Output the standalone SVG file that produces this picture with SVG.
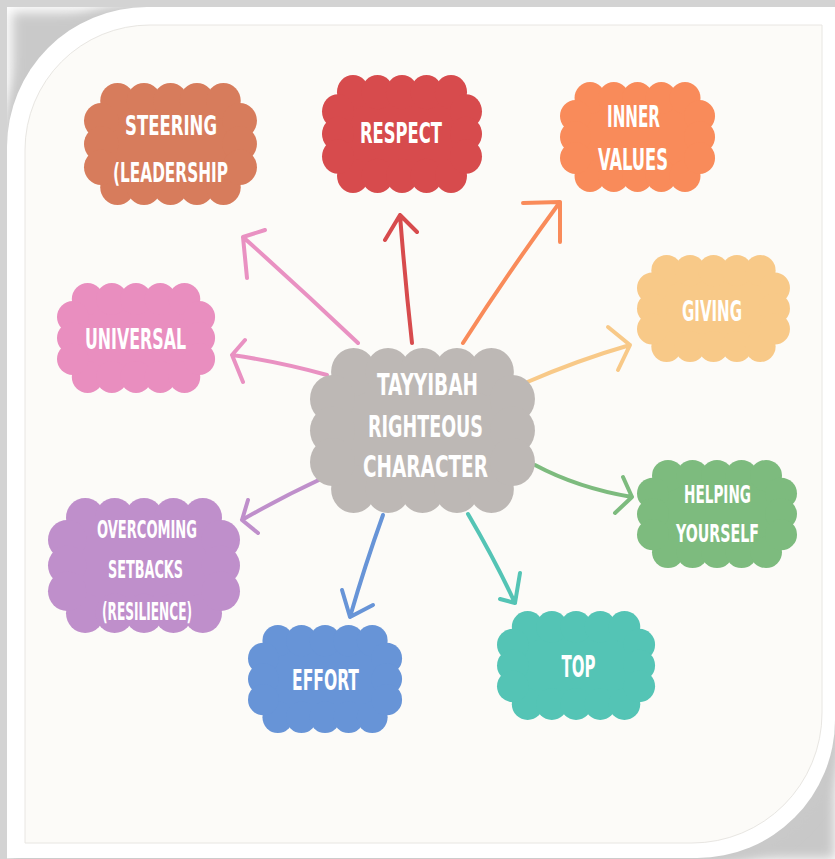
<svg xmlns="http://www.w3.org/2000/svg" xmlns:xlink="http://www.w3.org/1999/xlink" width="835" height="859" viewBox="0 0 835 859">
<style>
.lbl{font-family:"DejaVu Sans Condensed","DejaVu Sans","Liberation Sans",sans-serif;font-weight:bold;fill:#ffffff;text-anchor:middle}
.arr{fill:none;stroke-width:4;stroke-linecap:round;stroke-linejoin:round}
</style>
<defs>
<filter id="blur" x="-10%" y="-10%" width="120%" height="120%"><feGaussianBlur stdDeviation="6"/></filter>
<g id="cloud">
<rect x="20" y="20" width="120" height="70"/>
<circle cx="31" cy="16" r="16"/><circle cx="55.5" cy="16" r="16"/><circle cx="80" cy="16" r="16"/><circle cx="104.5" cy="16" r="16"/><circle cx="129" cy="16" r="16"/>
<circle cx="31" cy="94" r="16"/><circle cx="55.5" cy="94" r="16"/><circle cx="80" cy="94" r="16"/><circle cx="104.5" cy="94" r="16"/><circle cx="129" cy="94" r="16"/>
<circle cx="16" cy="34" r="16"/><circle cx="16" cy="55" r="16"/><circle cx="16" cy="76" r="16"/>
<circle cx="144" cy="34" r="16"/><circle cx="144" cy="55" r="16"/><circle cx="144" cy="76" r="16"/>
</g>
</defs>
<g id="frame">
<rect x="0" y="0" width="835" height="859" fill="#ffffff"/>
<path d="M 3,143 A 140 140 0 0 1 143 3 H 835 V 859 H 3 Z" fill="#c8c8c8" filter="url(#blur)"/>
<path d="M 12,12 H 841 V 728 A 140 140 0 0 1 701 866 H 12 Z" fill="#c9c9c9" filter="url(#blur)"/>
<rect x="0" y="0" width="835" height="7" fill="#d3d3d3"/>
<rect x="0" y="0" width="7" height="859" fill="#d3d3d3"/>
<path d="M 7,147 A 140 140 0 0 1 147 7 H 835 V 720 A 138 138 0 0 1 697 858 H 7 Z" fill="#ffffff"/>
<path d="M 25,150 A 125 125 0 0 1 150 25 H 822 V 713 A 130 130 0 0 1 692 843 H 25 Z" fill="#fcfbf8" stroke="#e8e6e2" stroke-width="1"/>
</g>
<g id="connectors">
<path class="arr" stroke="#e991c2" d="M358,343 Q300,288 243,237 M265,230 L243,237 L247,278"/>
<path class="arr" stroke="#e991c2" d="M327,375 Q280,362 232,355 M245,340 L232,355 L243,382"/>
<path class="arr" stroke="#d74b4d" d="M412,343 Q405,280 400,215 M385,240 L400,215 L417,232"/>
<path class="arr" stroke="#f98b5a" d="M463,343 Q510,270 560,202 M523,203 L560,202 L560,242"/>
<path class="arr" stroke="#f8c988" d="M525,383 Q578,360 630,345 M608,327 L630,345 L618,370"/>
<path class="arr" stroke="#7dbb7e" d="M535,465 Q578,488 632,497 M623,477 L632,497 L615,513"/>
<path class="arr" stroke="#54c4b5" d="M468,514 Q495,560 515,603 M520,573 L515,603 L500,599"/>
<path class="arr" stroke="#6794d7" d="M383,515 Q365,565 350,617 M342,590 L350,617 L373,605"/>
<path class="arr" stroke="#bf8fcb" d="M323,478 Q280,498 242,520 M248,500 L242,520 L258,533"/>
</g>
<g id="steering">
<use xlink:href="#cloud" fill="#d77c5c" transform="translate(84,83) scale(1.081,1.109)"/>
<text class="lbl" x="171" y="135" font-size="26" textLength="92" lengthAdjust="spacingAndGlyphs">STEERING</text>
<text class="lbl" x="170.5" y="182" font-size="26" textLength="115" lengthAdjust="spacingAndGlyphs">(LEADERSHIP</text>
</g>
<g id="respect">
<use xlink:href="#cloud" fill="#d74b4d" transform="translate(322,75) scale(1.0,1.073)"/>
<text class="lbl" x="401" y="143" font-size="29" textLength="82" lengthAdjust="spacingAndGlyphs">RESPECT</text>
</g>
<g id="inner-values">
<use xlink:href="#cloud" fill="#f98b5a" transform="translate(560,82) scale(0.969,1.0)"/>
<text class="lbl" x="633.5" y="127" font-size="30" textLength="53" lengthAdjust="spacingAndGlyphs">INNER</text>
<text class="lbl" x="633" y="170" font-size="30" textLength="70" lengthAdjust="spacingAndGlyphs">VALUES</text>
</g>
<g id="giving">
<use xlink:href="#cloud" fill="#f8c988" transform="translate(637,255) scale(0.956,0.973)"/>
<text class="lbl" x="712" y="321" font-size="29" textLength="60" lengthAdjust="spacingAndGlyphs">GIVING</text>
</g>
<g id="universal">
<use xlink:href="#cloud" fill="#e98ebf" transform="translate(57,283) scale(0.988,1.0)"/>
<text class="lbl" x="135.5" y="349" font-size="29" textLength="101" lengthAdjust="spacingAndGlyphs">UNIVERSAL</text>
</g>
<g id="center">
<use xlink:href="#cloud" fill="#bdb8b5" transform="translate(310,348) scale(1.406,1.5)"/>
<text class="lbl" x="427.5" y="395" font-size="31" textLength="101" lengthAdjust="spacingAndGlyphs">TAYYIBAH</text>
<text class="lbl" x="425.5" y="437" font-size="31" textLength="115" lengthAdjust="spacingAndGlyphs">RIGHTEOUS</text>
<text class="lbl" x="425.5" y="477" font-size="31" textLength="125" lengthAdjust="spacingAndGlyphs">CHARACTER</text>
</g>
<g id="helping-yourself">
<use xlink:href="#cloud" fill="#7dbb7e" transform="translate(637,460) scale(1.0,0.982)"/>
<text class="lbl" x="717.5" y="503" font-size="25" textLength="67" lengthAdjust="spacingAndGlyphs">HELPING</text>
<text class="lbl" x="717.5" y="542" font-size="25" textLength="83" lengthAdjust="spacingAndGlyphs">YOURSELF</text>
</g>
<g id="overcoming">
<use xlink:href="#cloud" fill="#bf8fcb" transform="translate(48,498) scale(1.2,1.227)"/>
<text class="lbl" x="147" y="538" font-size="25" textLength="100" lengthAdjust="spacingAndGlyphs">OVERCOMING</text>
<text class="lbl" x="145.5" y="578" font-size="25" textLength="75" lengthAdjust="spacingAndGlyphs">SETBACKS</text>
<text class="lbl" x="147" y="620" font-size="25" textLength="90" lengthAdjust="spacingAndGlyphs">(RESILIENCE)</text>
</g>
<g id="effort">
<use xlink:href="#cloud" fill="#6794d7" transform="translate(248,625) scale(0.963,0.982)"/>
<text class="lbl" x="325.5" y="690" font-size="29" textLength="67" lengthAdjust="spacingAndGlyphs">EFFORT</text>
</g>
<g id="top">
<use xlink:href="#cloud" fill="#54c4b5" transform="translate(497,611) scale(0.988,0.991)"/>
<text class="lbl" x="578.5" y="677" font-size="30" textLength="34" lengthAdjust="spacingAndGlyphs">TOP</text>
</g>
</svg>
